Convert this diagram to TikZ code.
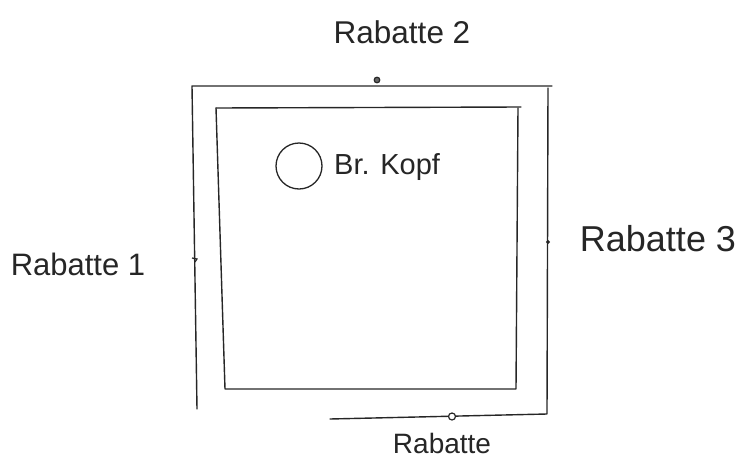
\documentclass[tikz,border=0pt]{standalone}
\usepackage{fontspec}
\setmainfont{Liberation Sans}
\begin{document}
\begin{tikzpicture}[x=1pt,y=-1pt,
  pen/.style={line width=1.4pt,draw=black!85,line cap=round,line join=round},
  dotmark/.style={line width=1.2pt,draw=black!85},
  lbl/.style={text=black!85,inner sep=0pt}]
\useasboundingbox (0,0) rectangle (742,461);
% outer frame
\draw[pen] (197,409) -- (192,86) -- (552,86);
\draw[pen] (548,88) -- (547,414) -- (330,419);
% inner rectangle
\draw[pen] (216,108) -- (521,107);
\draw[pen] (216,108) -- (225,389) -- (516,389) -- (518,108);
% marks
\draw[dotmark,fill=black!60] (377,80) circle (2.8);
\draw[dotmark,fill=white] (452,416.5) circle (3.5);
\draw[dotmark] (192,258) -- (197,259) -- (195,262);
\draw[dotmark] (548,242) circle (1.2);
% Br. Kopf circle
\node[draw=black!85,line width=1.3pt,circle,minimum size=46pt,inner sep=0pt] (kopf) at (299,166) {};
\node[lbl,anchor=west,font=\fontsize{29}{31}\selectfont] (kopft) at (334,167) {Br. Kopf};
% labels
\node[lbl,font=\fontsize{31.5}{33}\selectfont] (r2) at (402,32) {Rabatte 2};
\node[lbl,font=\fontsize{31}{33}\selectfont] (r1) at (78,264) {Rabatte 1};
\node[lbl,font=\fontsize{36}{38}\selectfont] (r3) at (658,239) {Rabatte 3};
\node[lbl,font=\fontsize{28}{30}\selectfont] (r0) at (442,443) {Rabatte};
\end{tikzpicture}
\end{document}
